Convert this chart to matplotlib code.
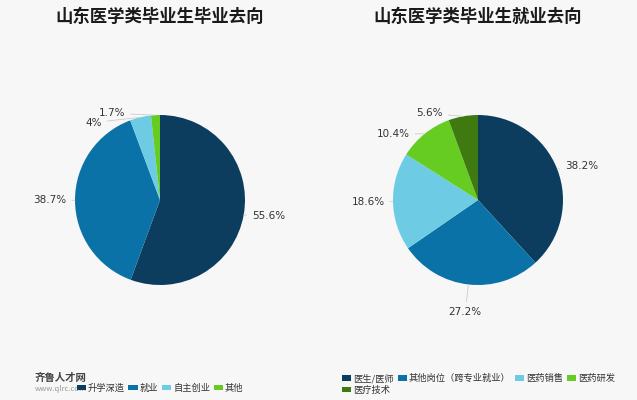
import numpy as np
import matplotlib.pyplot as plt
from matplotlib.patches import Patch

plt.rcParams['font.family'] = ['Noto Sans CJK SC', 'DejaVu Sans']

# 左图：毕业去向
left_title = '山东医学类毕业生毕业去向'
left_labels = ['升学深造', '就业', '自主创业', '其他']
left_values = [55.6, 38.7, 4, 1.7]
left_colors = ['#0c3d5e', '#0b72a7', '#6dcbe3', '#66cc22']

# 右图：就业去向
right_title = '山东医学类毕业生就业去向'
right_labels = ['医生/医师', '其他岗位（跨专业就业）', '医药销售', '医药研发', '医疗技术']
right_values = [38.2, 27.2, 18.6, 10.4, 5.6]
right_colors = ['#0c3d5e', '#0b72a7', '#6dcbe3', '#66cc22', '#3f7a10']

fig = plt.figure(figsize=(6.37, 4.0), dpi=100)
fig.patch.set_facecolor('#f7f7f7')


def draw_pie(ax, values, colors, label_angles, label_r):
    wedges, _ = ax.pie(values, colors=colors, startangle=90, counterclock=False,
                       radius=1.0, wedgeprops=dict(linewidth=0))
    for i, (w, v) in enumerate(zip(wedges, values)):
        mid = np.deg2rad((w.theta1 + w.theta2) / 2)
        ang = np.deg2rad(label_angles[i]) if label_angles[i] is not None else mid
        r = label_r[i]
        x0, y0 = np.cos(mid), np.sin(mid)
        x1, y1 = r * np.cos(ang), r * np.sin(ang)
        txt = ('%g' % v) + '%'
        ha = 'left' if x1 > 0.2 else ('right' if x1 < -0.2 else 'center')
        ax.annotate(txt, xy=(x0, y0), xytext=(x1, y1), fontsize=7.5, color='#333333',
                    ha=ha, va='center', family='DejaVu Sans',
                    arrowprops=dict(arrowstyle='-', color='#cccccc', lw=0.6,
                                    shrinkA=2, shrinkB=0))
    ax.set_xlim(-1, 1)
    ax.set_ylim(-1, 1)
    ax.set_aspect('equal')
    ax.axis('off')


ax1 = fig.add_axes([75 / 637, 115 / 400, 170 / 637, 170 / 400])
draw_pie(ax1, left_values, left_colors, [None, None, 127, 112], [1.1, 1.1, 1.14, 1.1])
ax2 = fig.add_axes([393 / 637, 115 / 400, 170 / 637, 170 / 400])
draw_pie(ax2, right_values, right_colors, [None, -96.5, None, 136, 112], [1.1, 1.33, 1.1, 1.12, 1.1])

fig.text(160 / 637, 1 - 17 / 400, left_title, ha='center', va='center',
         fontsize=12.5, fontweight='bold', color='#1a1a1a')
fig.text(478 / 637, 1 - 17 / 400, right_title, ha='center', va='center',
         fontsize=12.5, fontweight='bold', color='#1a1a1a')

h1 = [Patch(facecolor=c, label=l) for c, l in zip(left_colors, left_labels)]
fig.legend(handles=h1, loc='center', bbox_to_anchor=(160 / 637, 1 - 388 / 400), ncol=4,
           frameon=False, fontsize=6.7, handlelength=1.0, handleheight=0.5,
           handletextpad=0.2, columnspacing=0.4, labelcolor='#333333')

# 图例按行排列：第一行前四项，第二行最后一项
h2 = [Patch(facecolor=c, label=l) for c, l in zip(right_colors, right_labels)]
h2 = [h2[0], h2[4], h2[1], h2[2], h2[3]]
fig.legend(handles=h2, loc='upper left', bbox_to_anchor=(338 / 637, 1 - 370 / 400), ncol=4,
           frameon=False, fontsize=6.7, handlelength=1.0, handleheight=0.5,
           handletextpad=0.2, columnspacing=0.45, labelcolor='#333333',
           borderaxespad=0, labelspacing=0.3)

# 水印
fig.text(35 / 637, 1 - 378 / 400, '齐鲁人才网', fontsize=7.5, fontweight='bold',
         color='#444444', va='center')
fig.text(35 / 637, 1 - 389 / 400, 'www.qlrc.com', fontsize=5.5, color='#999999', va='center')

fig.savefig('out.png', dpi=100, facecolor=fig.get_facecolor())
